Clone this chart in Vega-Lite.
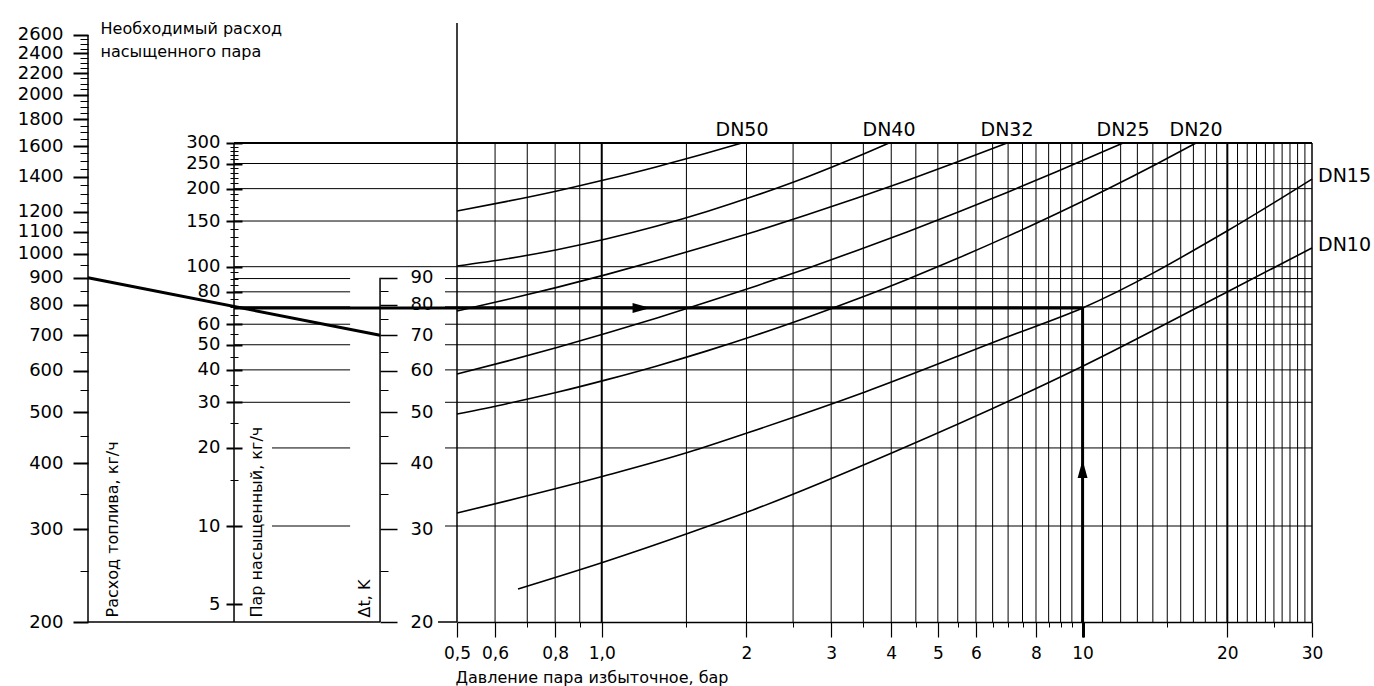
{
"$schema": "https://vega.github.io/schema/vega-lite/v6.json",
"padding": {"left": 17, "top": 12, "right": 5, "bottom": 5},
"background": "white",
"spacing": 0,
"bounds": "flush",
"config": {
  "font": "DejaVu Sans",
  "view": {"stroke": null},
  "axis": {"labelFont": "DejaVu Sans", "titleFont": "DejaVu Sans", "labelColor": "black", "titleColor": "black", "tickColor": "black", "domainColor": "black", "titleFontWeight": "normal", "grid": false, "labelOverlap": false, "labelFlush": false, "labelBound": false},
  "text": {"font": "DejaVu Sans", "color": "black"}
},
"hconcat": [
{
  "width": 369, "height": 610,
  "layer": [
    {"data": {"values": [{"pos": 0, "fuel": 200, "fuel_end": 2600}]},
     "mark": {"type": "rule", "strokeWidth": 1.5, "color": "black"},
     "encoding": {
       "x": {"field": "pos", "type": "quantitative", "scale": {"type": "linear", "domain": [0, 2.527], "nice": false, "zero": false}, "axis": null},
       "y": {"field": "fuel", "type": "quantitative", "scale": {"type": "log", "domain": [200, 2874], "nice": false},
             "axis": {"orient": "left", "offset": 0, "domain": false,
               "values": [200,300,400,500,600,700,800,900,1000,1100,1200,1400,1600,1800,2000,2200,2400,2600],
               "tickSize": 15, "tickWidth": 2, "format": "d",
               "labelPadding": 10, "labelFontSize": 18,
               "title": "Расход топлива, кг/ч", "titleAngle": 270, "titleAlign": "left", "titleBaseline": "middle", "titleX": 24, "titleY": 605, "titleFontSize": 16}},
       "y2": {"field": "fuel_end"}
     }},
    {"data": {"values": [{"pos": 0, "pos_end": 2, "fuel": 900, "fuel_end": 700}]},
     "mark": {"type": "rule", "strokeWidth": 3, "color": "black"},
     "encoding": {
       "x": {"field": "pos", "type": "quantitative", "scale": {"type": "linear", "domain": [0, 2.527], "nice": false, "zero": false}, "axis": null},
       "x2": {"field": "pos_end"},
       "y": {"field": "fuel", "type": "quantitative", "scale": {"type": "log", "domain": [200, 2874], "nice": false},
             "axis": {"orient": "left", "offset": 0, "domain": false, "labels": false, "title": null,
               "values": [250,350,450,550,650,750,850,950,1050,1150,1250,1300,1350,1450,1500,1550,1650,1700,1750,1850,1900,1950,2050,2100,2150,2250,2300,2350,2450,2500,2550],
               "tickSize": 8, "tickWidth": 1}},
       "y2": {"field": "fuel_end"}
     }},
    {"data": {"values": [{"pos": 1, "steam": 4.264, "steam_end": 300}]},
     "mark": {"type": "rule", "strokeWidth": 1.5, "color": "black"},
     "encoding": {
       "x": {"field": "pos", "type": "quantitative", "scale": {"type": "linear", "domain": [0, 2.527], "nice": false, "zero": false}, "axis": null},
       "y": {"field": "steam", "type": "quantitative", "scale": {"type": "log", "domain": [4.264, 959.8], "nice": false},
             "axis": {"orient": "left", "offset": -146, "domain": false,
               "values": [5,10,20,30,40,50,60,80,100,150,200,250,300],
               "tickSize": 8, "tickWidth": 2, "format": "d",
               "labelPadding": 6, "labelFontSize": 18,
               "title": "Пар насыщенный, кг/ч", "titleAngle": 270, "titleAlign": "left", "titleBaseline": "middle", "titleX": 22, "titleY": 605, "titleFontSize": 16}},
       "y2": {"field": "steam_end"}
     }},
    {"data": {"values": [{"pos": 1, "pos_end": 2.527, "steam": 69.3}]},
     "mark": {"type": "rule", "strokeWidth": 3, "color": "black"},
     "encoding": {
       "x": {"field": "pos", "type": "quantitative", "scale": {"type": "linear", "domain": [0, 2.527], "nice": false, "zero": false}, "axis": null},
       "x2": {"field": "pos_end"},
       "y": {"field": "steam", "type": "quantitative", "scale": {"type": "log", "domain": [4.264, 959.8], "nice": false},
             "axis": {"orient": "left", "offset": -146, "domain": false, "labels": false, "title": null,
               "values": [15,25,35,45,55,65,70,75,85,90,95,110,120,130,140,160,170,180,190,210,220,230,240,260,270,280,290],
               "tickSize": 4, "tickWidth": 1}}
     }},
    {"data": {"values": [{"pos": 1, "pos_end": 2.527, "steam": 300}, {"pos": 1, "pos_end": 2.527, "steam": 250}, {"pos": 1, "pos_end": 2.527, "steam": 200}, {"pos": 1, "pos_end": 2.527, "steam": 150}, {"pos": 1, "pos_end": 2.527, "steam": 100}]},
     "mark": {"type": "rule", "color": "black"},
     "encoding": {
       "x": {"field": "pos", "type": "quantitative", "scale": {"type": "linear", "domain": [0, 2.527], "nice": false, "zero": false}, "axis": null},
       "x2": {"field": "pos_end"},
       "y": {"field": "steam", "type": "quantitative", "scale": {"type": "log", "domain": [4.264, 959.8], "nice": false},
             "axis": {"orient": "right", "offset": -223, "domain": false, "labels": false,
               "values": [5,10,20,30,40,50,60,80,100,150,200,250,300],
               "tickSize": 8, "tickWidth": 2,
               "title": ["Необходимый расход", "насыщенного пара"], "titleAngle": 0, "titleAlign": "left", "titleBaseline": "alphabetic", "titleX": -134, "titleY": 21, "titleFontSize": 16, "titleLineHeight": 23}},
       "strokeWidth": {"condition": {"test": "datum.steam == 300", "value": 2}, "value": 1}
     }},
    {"data": {"values": [{"pos": 1, "pos_end": 1.795, "steam": 90}, {"pos": 1, "pos_end": 1.795, "steam": 80}, {"pos": 1, "pos_end": 1.795, "steam": 70}, {"pos": 1, "pos_end": 1.795, "steam": 60}, {"pos": 1, "pos_end": 1.795, "steam": 50}, {"pos": 1, "pos_end": 1.795, "steam": 40}, {"pos": 1, "pos_end": 1.795, "steam": 30}, {"pos": 1.26, "pos_end": 1.795, "steam": 20}, {"pos": 1.26, "pos_end": 1.795, "steam": 10}]},
     "mark": {"type": "rule", "color": "black", "strokeWidth": 1},
     "encoding": {
       "x": {"field": "pos", "type": "quantitative", "scale": {"type": "linear", "domain": [0, 2.527], "nice": false, "zero": false}, "axis": null},
       "x2": {"field": "pos_end"},
       "y": {"field": "steam", "type": "quantitative", "scale": {"type": "log", "domain": [4.264, 959.8], "nice": false},
             "axis": {"orient": "right", "offset": -223, "domain": false, "labels": false, "title": null,
               "values": [15,25,35,45,55,65,70,75,85,90,95,110,120,130,140,160,170,180,190,210,220,230,240,260,270,280,290],
               "tickSize": 4, "tickWidth": 1}}
     }},
    {"data": {"values": [{"pos": 2.445, "pos_end": 2.527, "steam": 90}, {"pos": 2.445, "pos_end": 2.527, "steam": 80}, {"pos": 2.445, "pos_end": 2.527, "steam": 70}, {"pos": 2.445, "pos_end": 2.527, "steam": 60}, {"pos": 2.445, "pos_end": 2.527, "steam": 50}, {"pos": 2.445, "pos_end": 2.527, "steam": 40}, {"pos": 2.445, "pos_end": 2.527, "steam": 30}, {"pos": 2.445, "pos_end": 2.527, "steam": 20}, {"pos": 2.445, "pos_end": 2.527, "steam": 10}]},
     "mark": {"type": "rule", "color": "black", "strokeWidth": 1},
     "encoding": {
       "x": {"field": "pos", "type": "quantitative", "scale": {"type": "linear", "domain": [0, 2.527], "nice": false, "zero": false}, "axis": null},
       "x2": {"field": "pos_end"},
       "y": {"field": "steam", "type": "quantitative", "scale": {"type": "log", "domain": [4.264, 959.8], "nice": false}, "axis": null}
     }},
    {"data": {"values": [{"pos": 2, "dt": 20, "dt_end": 90}]},
     "mark": {"type": "rule", "strokeWidth": 1.5, "color": "black"},
     "encoding": {
       "x": {"field": "pos", "type": "quantitative", "scale": {"type": "linear", "domain": [0, 2.527], "nice": false, "zero": false}, "axis": null},
       "y": {"field": "dt", "type": "quantitative", "scale": {"type": "log", "domain": [20, 287.4], "nice": false},
             "axis": {"orient": "right", "offset": -77, "domain": false,
               "values": [20,30,40,50,60,70,80,90],
               "tickSize": 17, "tickWidth": 1.5, "format": "d",
               "labelPadding": 13, "labelFontSize": 18,
               "title": "Δt, K", "titleAngle": 270, "titleAlign": "left", "titleBaseline": "middle", "titleX": -16, "titleY": 605, "titleFontSize": 16}},
       "y2": {"field": "dt_end"}
     }},
    {"data": {"values": [{"pos": 0, "pos_end": 2, "dt": 20}, {"pos": 2.397, "pos_end": 2.527, "dt": 20}]},
     "mark": {"type": "rule", "strokeWidth": 1.5, "color": "black"},
     "encoding": {
       "x": {"field": "pos", "type": "quantitative", "scale": {"type": "linear", "domain": [0, 2.527], "nice": false, "zero": false}, "axis": null},
       "x2": {"field": "pos_end"},
       "y": {"field": "dt", "type": "quantitative", "scale": {"type": "log", "domain": [20, 287.4], "nice": false},
             "axis": {"orient": "right", "offset": -77, "domain": false, "labels": false, "title": null,
               "values": [25,35,45,55,65,75,85],
               "tickSize": 8, "tickWidth": 1}}
     }}
  ],
  "resolve": {"scale": {"y": "independent"}, "axis": {"y": "independent"}}
},
{
  "width": 855, "height": 610,
  "layer": [
    {"data": {"values": [{"p":0.6},{"p":0.7},{"p":0.8},{"p":0.9},{"p":1.5},{"p":2},{"p":2.5},{"p":3},{"p":3.5},{"p":4},{"p":4.5},{"p":5},{"p":5.5},{"p":6},{"p":6.5},{"p":7},{"p":7.5},{"p":8},{"p":8.5},{"p":9},{"p":9.5},{"p":10},{"p":11},{"p":12},{"p":13},{"p":14},{"p":15},{"p":16},{"p":17},{"p":18},{"p":19},{"p":21},{"p":22},{"p":23},{"p":24},{"p":25},{"p":26},{"p":27},{"p":28},{"p":29}]},
     "transform": [{"calculate": "300", "as": "s"}, {"calculate": "4.264", "as": "s_end"}],
     "mark": {"type": "rule", "color": "black", "strokeWidth": 1},
     "encoding": {
       "x": {"field": "p", "type": "quantitative", "scale": {"type": "log", "domain": [0.5, 30], "nice": false},
             "axis": {"orient": "bottom", "domain": true, "domainWidth": 1.5,
               "values": [0.5,0.6,0.8,1,2,3,4,5,6,8,10,20,30],
               "tickSize": 15, "tickWidth": 1.2,
               "labelExpr": "datum.value < 1 ? '0,' + format(datum.value * 10, 'd') : (datum.value == 1 ? '1,0' : format(datum.value, 'd'))",
               "labelFontSize": 17, "labelPadding": 8,
               "title": "Давление пара избыточное, бар", "titleX": -2, "titleY": 60, "titleAlign": "left", "titleBaseline": "alphabetic", "titleAngle": 0, "titleFontSize": 16}},
       "y": {"field": "s", "type": "quantitative", "scale": {"type": "log", "domain": [4.264, 959.8], "nice": false},
             "axis": {"orient": "left", "domain": false, "ticks": false, "labels": false,
               "title": "Диаметр трубопровода насыщенного пара", "titleAngle": 0, "titleAlign": "left", "titleBaseline": "alphabetic", "titleX": 13, "titleY": 22, "titleFontSize": 16}},
       "y2": {"field": "s_end"}
     }},
    {"data": {"values": [{"p": 1, "s": 300, "s_end": 4.264}, {"p": 20, "s": 300, "s_end": 4.264}]},
     "mark": {"type": "rule", "color": "black", "strokeWidth": 2},
     "encoding": {
       "x": {"field": "p", "type": "quantitative", "scale": {"type": "log", "domain": [0.5, 30], "nice": false},
             "axis": {"orient": "bottom", "domain": false, "labels": false, "title": null,
               "values": [0.7,0.9,1.5,2.5,3.5,4.5,5.5,6.5,7,7.5,8.5,9,9.5,15,25],
               "tickSize": 5, "tickWidth": 1}},
       "y": {"field": "s", "type": "quantitative", "scale": {"type": "log", "domain": [4.264, 959.8], "nice": false}, "axis": null},
       "y2": {"field": "s_end"}
     }},
    {"data": {"values": [{"p": 30, "s": 300, "s_end": 4.264}]},
     "mark": {"type": "rule", "color": "black", "strokeWidth": 1.5},
     "encoding": {
       "x": {"field": "p", "type": "quantitative", "scale": {"type": "log", "domain": [0.5, 30], "nice": false}, "axis": null},
       "y": {"field": "s", "type": "quantitative", "scale": {"type": "log", "domain": [4.264, 959.8], "nice": false}, "axis": null},
       "y2": {"field": "s_end"}
     }},
    {"data": {"values": [{"p": 0.5, "s": 870.6, "s_end": 4.264}]},
     "mark": {"type": "rule", "color": "black", "strokeWidth": 1.5},
     "encoding": {
       "x": {"field": "p", "type": "quantitative", "scale": {"type": "log", "domain": [0.5, 30], "nice": false}, "axis": null},
       "y": {"field": "s", "type": "quantitative", "scale": {"type": "log", "domain": [4.264, 959.8], "nice": false}, "axis": null},
       "y2": {"field": "s_end"}
     }},
    {"data": {"values": [{"p": 0.5, "p_end": 30, "s": 250}, {"p": 0.5, "p_end": 30, "s": 200}, {"p": 0.5, "p_end": 30, "s": 150}, {"p": 0.5, "p_end": 30, "s": 100}, {"p": 0.5, "p_end": 30, "s": 90}, {"p": 0.5, "p_end": 30, "s": 80}, {"p": 0.5, "p_end": 30, "s": 70}, {"p": 0.5, "p_end": 30, "s": 60}, {"p": 0.5, "p_end": 30, "s": 50}, {"p": 0.5, "p_end": 30, "s": 40}, {"p": 0.5, "p_end": 30, "s": 30}, {"p": 0.5, "p_end": 30, "s": 20}, {"p": 0.5, "p_end": 30, "s": 10}, {"p": 0.5, "p_end": 30, "s": 300}]},
     "mark": {"type": "rule", "color": "black"},
     "encoding": {
       "x": {"field": "p", "type": "quantitative", "scale": {"type": "log", "domain": [0.5, 30], "nice": false}, "axis": null},
       "x2": {"field": "p_end"},
       "y": {"field": "s", "type": "quantitative", "scale": {"type": "log", "domain": [4.264, 959.8], "nice": false}, "axis": null},
       "strokeWidth": {"condition": {"test": "datum.s == 300", "value": 2}, "value": 1}
     }},
    {"data": {"values": [
      {"dn":"DN50","p":0.5,"s":164.0},{"dn":"DN50","p":0.6353,"s":178.6},{"dn":"DN50","p":0.8071,"s":196.0},{"dn":"DN50","p":1.0255,"s":217.3},{"dn":"DN50","p":1.3028,"s":243.1},{"dn":"DN50","p":1.6557,"s":274.2},{"dn":"DN50","p":1.9576,"s":300},
      {"dn":"DN40","p":0.5,"s":100.6},{"dn":"DN40","p":0.6353,"s":107.3},{"dn":"DN40","p":0.8071,"s":116.3},{"dn":"DN40","p":1.0255,"s":128.1},{"dn":"DN40","p":1.3028,"s":143.4},{"dn":"DN40","p":1.6557,"s":163.3},{"dn":"DN40","p":2.1031,"s":188.9},{"dn":"DN40","p":2.6727,"s":221.9},{"dn":"DN40","p":3.3957,"s":265.4},{"dn":"DN40","p":3.958,"s":300},
      {"dn":"DN32","p":0.5,"s":67.49},{"dn":"DN32","p":0.6353,"s":74.73},{"dn":"DN32","p":0.8071,"s":83.22},{"dn":"DN32","p":1.0255,"s":93.4},{"dn":"DN32","p":1.3028,"s":105.6},{"dn":"DN32","p":1.6557,"s":120.1},{"dn":"DN32","p":2.1031,"s":137.4},{"dn":"DN32","p":2.6727,"s":158.6},{"dn":"DN32","p":3.3957,"s":184.1},{"dn":"DN32","p":4.3149,"s":215.0},{"dn":"DN32","p":5.4816,"s":253.2},{"dn":"DN32","p":6.9645,"s":300},
      {"dn":"DN25","p":0.5,"s":38.57},{"dn":"DN25","p":0.6353,"s":43.24},{"dn":"DN25","p":0.8071,"s":48.8},{"dn":"DN25","p":1.0255,"s":55.46},{"dn":"DN25","p":1.3028,"s":63.41},{"dn":"DN25","p":1.6557,"s":73.05},{"dn":"DN25","p":2.1031,"s":84.47},{"dn":"DN25","p":2.6727,"s":98.49},{"dn":"DN25","p":3.3957,"s":115.5},{"dn":"DN25","p":4.3149,"s":136.2},{"dn":"DN25","p":5.4816,"s":161.8},{"dn":"DN25","p":6.9645,"s":193.4},{"dn":"DN25","p":8.8498,"s":232.7},{"dn":"DN25","p":12.139,"s":300},
      {"dn":"DN20","p":0.5,"s":27.03},{"dn":"DN20","p":0.6353,"s":29.63},{"dn":"DN20","p":0.8071,"s":32.78},{"dn":"DN20","p":1.0255,"s":36.69},{"dn":"DN20","p":1.3028,"s":41.44},{"dn":"DN20","p":1.6557,"s":47.35},{"dn":"DN20","p":2.1031,"s":54.64},{"dn":"DN20","p":2.6727,"s":63.71},{"dn":"DN20","p":3.3957,"s":75.06},{"dn":"DN20","p":4.3149,"s":89.32},{"dn":"DN20","p":5.4816,"s":107.5},{"dn":"DN20","p":6.9645,"s":130.6},{"dn":"DN20","p":8.8498,"s":160.4},{"dn":"DN20","p":11.243,"s":199.0},{"dn":"DN20","p":14.287,"s":249.6},{"dn":"DN20","p":17.219,"s":300},
      {"dn":"DN15","p":0.5,"s":11.22},{"dn":"DN15","p":1.0109,"s":15.59},{"dn":"DN15","p":1.519,"s":19.29},{"dn":"DN15","p":2.0342,"s":23.04},{"dn":"DN15","p":3.5281,"s":32.87},{"dn":"DN15","p":6.9645,"s":53.56},{"dn":"DN15","p":10,"s":69.3},{"dn":"DN15","p":19.975,"s":137.3},{"dn":"DN15","p":30,"s":217.8},
      {"dn":"DN10","p":0.6697,"s":5.715},{"dn":"DN10","p":1.0109,"s":7.264},{"dn":"DN10","p":1.519,"s":9.397},{"dn":"DN10","p":2.0342,"s":11.42},{"dn":"DN10","p":4.0539,"s":19.29},{"dn":"DN10","p":9.8311,"s":40.67},{"dn":"DN10","p":19.975,"s":79.87},{"dn":"DN10","p":30,"s":118.1}
     ]},
     "mark": {"type": "line", "color": "black", "strokeWidth": 1.6, "interpolate": "monotone"},
     "encoding": {
       "x": {"field": "p", "type": "quantitative", "scale": {"type": "log", "domain": [0.5, 30], "nice": false}, "axis": null},
       "y": {"field": "s", "type": "quantitative", "scale": {"type": "log", "domain": [4.264, 959.8], "nice": false}, "axis": null},
       "detail": {"field": "dn", "type": "nominal"}
     }},
    {"data": {"values": [{"p": 10, "s": 69.3, "s_end": 4.264}]},
     "mark": {"type": "rule", "color": "black", "strokeWidth": 3},
     "encoding": {
       "x": {"field": "p", "type": "quantitative", "scale": {"type": "log", "domain": [0.5, 30], "nice": false},
             "axis": {"orient": "bottom", "domain": false, "labels": false, "title": null, "values": [10], "tickSize": 15, "tickWidth": 3}},
       "y": {"field": "s", "type": "quantitative", "scale": {"type": "log", "domain": [4.264, 959.8], "nice": false}, "axis": null},
       "y2": {"field": "s_end"}
     }},
    {"data": {"values": [{"p": 0.5, "p_end": 10, "s": 69.3}]},
     "mark": {"type": "rule", "color": "black", "strokeWidth": 3},
     "encoding": {
       "x": {"field": "p", "type": "quantitative", "scale": {"type": "log", "domain": [0.5, 30], "nice": false}, "axis": null},
       "x2": {"field": "p_end"},
       "y": {"field": "s", "type": "quantitative", "scale": {"type": "log", "domain": [4.264, 959.8], "nice": false}, "axis": null}
     }},
    {"data": {"values": [{"p": 1.21, "s": 69.3}]},
     "mark": {"type": "point", "shape": "M-1,-0.55L1,0L-1,0.55Z", "size": 324, "filled": true, "color": "black", "opacity": 1},
     "encoding": {
       "x": {"field": "p", "type": "quantitative", "scale": {"type": "log", "domain": [0.5, 30], "nice": false}, "axis": null},
       "y": {"field": "s", "type": "quantitative", "scale": {"type": "log", "domain": [4.264, 959.8], "nice": false}, "axis": null}
     }},
    {"data": {"values": [{"p": 10, "s": 16.59}]},
     "mark": {"type": "point", "shape": "M-0.55,1L0,-1L0.55,1Z", "size": 324, "filled": true, "color": "black", "opacity": 1},
     "encoding": {
       "x": {"field": "p", "type": "quantitative", "scale": {"type": "log", "domain": [0.5, 30], "nice": false}, "axis": null},
       "y": {"field": "s", "type": "quantitative", "scale": {"type": "log", "domain": [4.264, 959.8], "nice": false}, "axis": null}
     }},
    {"data": {"values": [{"dn": "DN50", "p": 1.9576, "s": 300}, {"dn": "DN40", "p": 3.958, "s": 300}, {"dn": "DN32", "p": 6.9645, "s": 300}, {"dn": "DN25", "p": 12.139, "s": 300}, {"dn": "DN20", "p": 17.219, "s": 300}]},
     "mark": {"type": "text", "fontSize": 19, "align": "center", "baseline": "middle", "dy": -13, "color": "black", "font": "DejaVu Sans"},
     "encoding": {
       "x": {"field": "p", "type": "quantitative", "scale": {"type": "log", "domain": [0.5, 30], "nice": false}, "axis": null},
       "y": {"field": "s", "type": "quantitative", "scale": {"type": "log", "domain": [4.264, 959.8], "nice": false}, "axis": null},
       "text": {"field": "dn", "type": "nominal"}
     }},
    {"data": {"values": [{"dn": "DN15", "p": 30, "s": 217.8}, {"dn": "DN10", "p": 30, "s": 118.1}]},
     "mark": {"type": "text", "fontSize": 19, "align": "left", "baseline": "middle", "dx": 6, "dy": -3, "color": "black", "font": "DejaVu Sans"},
     "encoding": {
       "x": {"field": "p", "type": "quantitative", "scale": {"type": "log", "domain": [0.5, 30], "nice": false}, "axis": null},
       "y": {"field": "s", "type": "quantitative", "scale": {"type": "log", "domain": [4.264, 959.8], "nice": false}, "axis": null},
       "text": {"field": "dn", "type": "nominal"}
     }}
  ],
  "resolve": {"scale": {"x": "independent"}, "axis": {"x": "independent"}}
}
]
}
